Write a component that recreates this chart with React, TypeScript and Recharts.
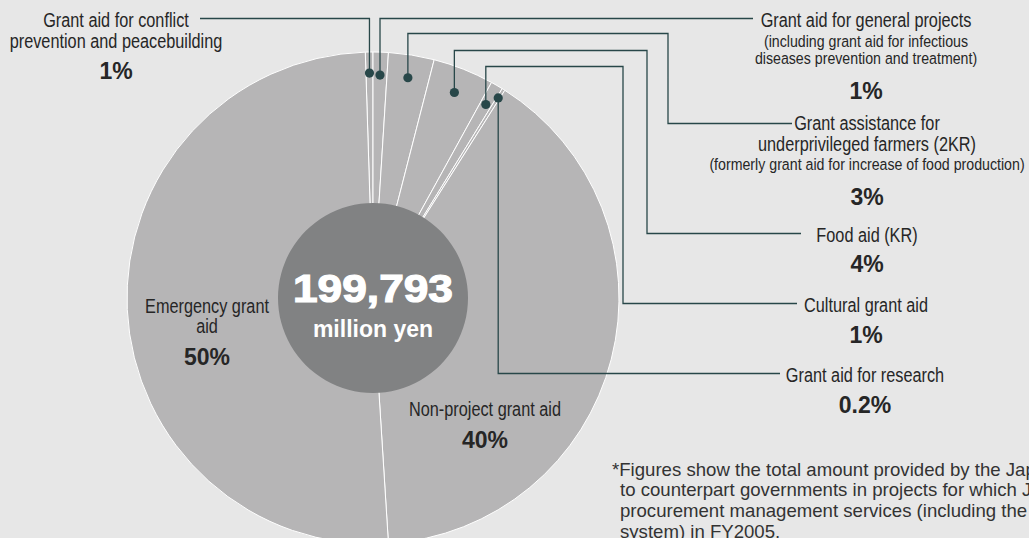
import React from 'react';
import { PieChart, Pie, Cell } from 'recharts';

// ---------- data ----------
const categories = [
  'Grant aid for conflict prevention and peacebuilding',
  'Grant aid for general projects',
  'Grant assistance for underprivileged farmers (2KR)',
  'Food aid (KR)',
  'Cultural grant aid',
  'Grant aid for research',
  'Non-project grant aid',
  'Emergency grant aid',
];
// share of total (%)
const shares = [0.5, 1.0, 3.0, 4.0, 0.8, 0.2, 40.0, 50.5];
const percentLabels = ['1%', '1%', '3%', '4%', '1%', '0.2%', '40%', '50%'];
const labelTitleLines = [
  ['Grant aid for conflict', 'prevention and peacebuilding'],
  ['Grant aid for general projects'],
  ['Grant assistance for', 'underprivileged farmers (2KR)'],
  ['Food aid (KR)'],
  ['Cultural grant aid'],
  ['Grant aid for research'],
  ['Non-project grant aid'],
  ['Emergency grant', 'aid'],
];
const labelNoteLines = [
  [],
  ['(including grant aid for infectious', 'diseases prevention and treatment)'],
  ['(formerly grant aid for increase of food production)'],
  [],
  [],
  [],
  [],
  [],
];
const totalAmount = '199,793';
const totalUnit = 'million yen';
const footnoteLines = [
  '*Figures show the total amount provided by the Japanese Government',
  'to counterpart governments in projects for which JICA provided',
  'procurement management services (including the follow-up',
  'system) in FY2005.',
];

const pieData = categories.map((name, i) => ({ name, value: shares[i] }));
const centerData = [{ name: 'total', value: 1 }];

// ---------- layout / style ----------
const W = 1029;
const H = 538;
const CX = 373;
const CY = 298;
const R_OUT = 246;
const R_IN = 95;
const START = 90 + (shares[0] / 100) * 360; // first slice ends at 12 o'clock

const BG = '#e7e7e7';
const PIE_FILL = '#b6b5b6';
const CENTER_FILL = '#818283';
const LEADER = '#284749';
const TEXT = '#262626';
const SANS = "'Liberation Sans', Arial, Helvetica, sans-serif";
const TITLE_SIZE = 19.5;
const TITLE_SCALE = 0.835;
const NOTE_SIZE = 16.5;
const NOTE_SCALE = 0.86;

type Lay = {
  dotR?: number;
  elbowY?: number;
  elbowX?: number;
  labelY?: number;
  endX?: number;
  textX: number;
  titleY: number[];
  noteY: number[];
  pctY: number;
};

const layout: Lay[] = [
  { dotR: 225, elbowY: 18.5, endX: 200, textX: 116, titleY: [27, 47.5], noteY: [], pctY: 79 },
  { dotR: 223, elbowY: 18.5, endX: 753, textX: 866, titleY: [27], noteY: [47, 64], pctY: 99 },
  { dotR: 223, elbowY: 33.5, elbowX: 668, labelY: 123.5, endX: 792, textX: 867, titleY: [130, 151], noteY: [170], pctY: 205 },
  { dotR: 221, elbowY: 50.5, elbowX: 647, labelY: 233.5, endX: 801, textX: 867, titleY: [241.5], noteY: [], pctY: 272 },
  { dotR: 224, elbowY: 66.5, elbowX: 623, labelY: 303.5, endX: 797, textX: 866, titleY: [311.5], noteY: [], pctY: 343 },
  { dotR: 236, elbowY: 373.5, endX: 780, textX: 865, titleY: [381.5], noteY: [], pctY: 412.5 },
  { textX: 485, titleY: [416], noteY: [], pctY: 447.5 },
  { textX: 207, titleY: [313, 333], noteY: [], pctY: 365 },
];

const RAD = Math.PI / 180;

function NarrowText({ x, y, size, scale, children }: any) {
  return (
    <text
      transform={`translate(${x},${y}) scale(${scale},1)`}
      x={0}
      y={0}
      textAnchor="middle"
      fontFamily={SANS}
      fontSize={size}
      fill={TEXT}
    >
      {children}
    </text>
  );
}

function renderSliceLabel(props: any) {
  const { cx, cy, midAngle, index } = props;
  const lay = layout[index];
  if (!lay) return null;
  const parts: React.ReactNode[] = [];
  if (lay.dotR !== undefined) {
    const dx = Number(cx) + Math.cos(-midAngle * RAD) * lay.dotR;
    const dy = Number(cy) + Math.sin(-midAngle * RAD) * lay.dotR;
    let d = `M${dx},${dy} V${lay.elbowY}`;
    if (lay.elbowX !== undefined) d += ` H${lay.elbowX} V${lay.labelY}`;
    d += ` H${lay.endX}`;
    parts.push(<path key="l" d={d} fill="none" stroke={LEADER} strokeWidth={1.3} />);
    parts.push(<circle key="c" cx={dx} cy={dy} r={4.6} fill={LEADER} />);
  }
  labelTitleLines[index].forEach((t, j) => {
    parts.push(
      <NarrowText key={'t' + j} x={lay.textX} y={lay.titleY[j]} size={TITLE_SIZE} scale={TITLE_SCALE}>
        {t}
      </NarrowText>
    );
  });
  labelNoteLines[index].forEach((t, j) => {
    parts.push(
      <NarrowText key={'n' + j} x={lay.textX} y={lay.noteY[j]} size={NOTE_SIZE} scale={NOTE_SCALE}>
        {t}
      </NarrowText>
    );
  });
  parts.push(
    <text key="p" x={lay.textX} y={lay.pctY} textAnchor="middle" fontFamily={SANS} fontWeight="bold" fontSize={23} fill={TEXT}>
      {percentLabels[index]}
    </text>
  );
  return <g>{parts}</g>;
}

function renderCenterLabel(props: any) {
  const { cx, cy } = props;
  const x = Number(cx);
  const y = Number(cy);
  return (
    <g>
      <text x={x} y={y + 4} textAnchor="middle" fontFamily={SANS} fontWeight="bold" fontSize={38} fill="#ffffff"
        stroke="#ffffff" strokeWidth={1.2} textLength={160} lengthAdjust="spacingAndGlyphs">
        {totalAmount}
      </text>
      <text x={x} y={y + 38.5} textAnchor="middle" fontFamily={SANS} fontWeight="bold" fontSize={23} fill="#ffffff">
        {totalUnit}
      </text>
    </g>
  );
}

export default function App() {
  return (
    <div style={{ position: 'fixed', left: 0, top: 0, width: W, height: H, overflow: 'hidden', background: BG }}>
      <PieChart width={W} height={H} margin={{ top: 0, right: 0, bottom: 0, left: 0 }}>
        <Pie
          data={pieData}
          dataKey="value"
          nameKey="name"
          cx={CX}
          cy={CY}
          innerRadius={0}
          outerRadius={R_OUT}
          startAngle={START}
          endAngle={START - 360}
          stroke="#ffffff"
          strokeWidth={1}
          label={renderSliceLabel}
          labelLine={false}
          isAnimationActive={false}
        >
          {pieData.map((d) => (
            <Cell key={d.name} fill={PIE_FILL} />
          ))}
        </Pie>
        <Pie
          data={centerData}
          dataKey="value"
          cx={CX}
          cy={CY}
          innerRadius={0}
          outerRadius={R_IN}
          fill={CENTER_FILL}
          stroke="none"
          label={renderCenterLabel}
          labelLine={false}
          isAnimationActive={false}
        />
      </PieChart>
      <div
        style={{
          position: 'absolute',
          left: 612,
          top: 459.5,
          fontFamily: SANS,
          fontSize: 18.6,
          lineHeight: '20.8px',
          color: '#333333',
          whiteSpace: 'nowrap',
        }}
      >
        {footnoteLines.map((t, i) => (
          <div key={i} style={{ paddingLeft: i === 0 ? 0 : 8 }}>
            {t}
          </div>
        ))}
      </div>
    </div>
  );
}
